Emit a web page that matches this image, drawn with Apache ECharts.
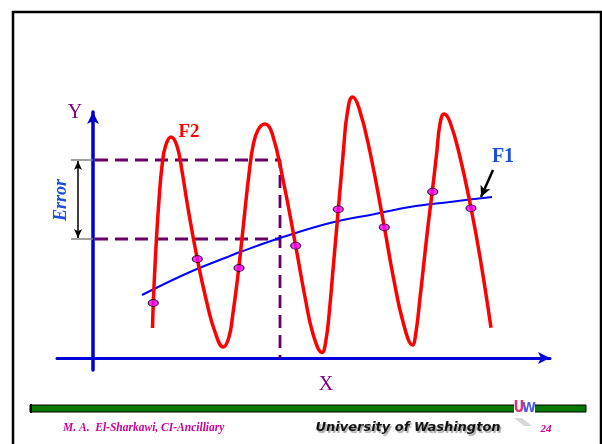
<!DOCTYPE html>
<html>
<head>
<meta charset="utf-8">
<script src="https://cdn.jsdelivr.net/npm/echarts@6/dist/echarts.min.js"></script>
<style>
html,body{margin:0;padding:0;background:#fff;}
#chart{width:602px;height:444px;}
</style>
</head>
<body>
<div id="chart"></div>
<script>
// ---- data (chart units: x to the right of the Y axis, y above the X axis) ----
const f1X = [49, 97, 137, 147, 187, 237, 282, 317, 357, 399];
const f1Y = [63, 86, 102, 106, 120, 135, 144, 151, 156, 161];

const f2X = [59.5, 60.3, 61.8, 63.5, 66, 69, 72.5, 78, 84, 89, 95.3, 104.3, 113.7, 122, 130.3, 136, 140, 144, 148, 152, 156, 160, 165, 172, 179, 190.3, 202.7, 212, 220.3, 229, 233, 236.5, 240, 243.5, 247, 250.5, 254, 259.5, 266, 277, 291.3, 300.3, 310.3, 319.5, 323, 327, 331, 335, 339.7, 343.7, 347, 351, 357, 367, 378, 387, 398];
const f2Y = [30, 55, 88, 120, 158, 192, 212, 221, 212, 187, 148, 99, 56, 26, 11, 21, 45, 75, 110, 148, 184, 212, 228, 234, 225, 177, 112, 61, 23, 5.5, 18, 48, 88, 128, 168, 208, 243, 261, 250, 206, 131, 81, 35, 13, 26, 60, 96, 132, 170, 205, 234, 244, 236, 201, 150, 101, 30.3];

const sampleX = [60.3, 104.3, 146, 202.7, 245.3, 291.3, 339.7, 378];
const sampleY = [55, 99, 90, 112.3, 148.7, 130.7, 166.3, 149.7];

const errorTop = 198;      // upper error level
const errorBottom = 119;   // lower error level
const guideX = 187;        // x of the vertical guide
const guideStart = 2;

const axisLabels = { x: 'X', y: 'Y' };
const curveLabels = { f1: 'F1', f2: 'F2', error: 'Error' };
const footer = { author: 'M. A.  El-Sharkawi, CI-Ancilliary', uni: 'University of Washington', page: '24' };

// ---- build ----
const zip = (xs, ys) => xs.map((x, i) => [x, ys[i]]);
const purple = '#660066';
const serif = '"Liberation Serif", "DejaVu Serif", serif';

const chart = echarts.init(document.getElementById('chart'), null, { renderer: 'canvas' });

const option = {
  animation: false,
  backgroundColor: '#ffffff',
  grid: { left: 57, right: 52, top: 112, bottom: 74, containLabel: false },
  xAxis: {
    type: 'value', min: -36, max: 457,
    axisLine: { show: true, onZero: true, symbol: ['none', 'arrow'], symbolSize: [9, 12],
      lineStyle: { color: '#0000dd', width: 3 } },
    axisTick: { show: false }, axisLabel: { show: false }, splitLine: { show: false }
  },
  yAxis: {
    type: 'value', min: -12, max: 246,
    axisLine: { show: true, onZero: true, symbol: ['none', 'arrow'], symbolSize: [9, 12],
      lineStyle: { color: '#0000cc', width: 3.5 } },
    axisTick: { show: false }, axisLabel: { show: false }, splitLine: { show: false }
  },
  series: [
    {
      name: 'guideTop', type: 'line', silent: true, symbol: 'none', clip: false, z: 2,
      data: [[guideStart, errorTop], [guideX, errorTop], [guideX, 0]],
      lineStyle: { color: purple, width: 2.8, type: [13, 7] }
    },
    {
      name: 'guideBottom', type: 'line', silent: true, symbol: 'none', clip: false, z: 2,
      data: [[guideStart, errorBottom], [guideX, errorBottom]],
      lineStyle: { color: purple, width: 2.8, type: [13, 7] },
      markLine: {
        silent: true, symbol: ['none', 'none'], label: { show: false },
        lineStyle: { color: '#808080', width: 1.5, type: 'solid' },
        data: [
          [{ coord: [-22, errorTop] }, { coord: [0, errorTop] }],
          [{ coord: [-22, errorBottom] }, { coord: [0, errorBottom] }]
        ]
      }
    },
    {
      name: 'errorArrow', type: 'line', silent: true, symbol: 'none', data: [], clip: false,
      markLine: {
        silent: true, symbol: ['arrow', 'arrow'], symbolSize: [6, 9], label: { show: false },
        lineStyle: { color: '#000000', width: 1.5, type: 'solid' },
        data: [
          [{ coord: [-15, errorTop - 1] }, { coord: [-15, errorBottom + 1] }],
        ]
      }
    },
    {
      name: 'F1', type: 'line', smooth: 0.4, symbol: 'none', clip: false, z: 3,
      data: zip(f1X, f1Y),
      lineStyle: { color: '#0000ff', width: 2 },
      markLine: {
        silent: true, symbol: ['none', 'arrow'], symbolSize: [8, 11], label: { show: false },
        lineStyle: { color: '#000000', width: 2.5, type: 'solid' },
        data: [[{ coord: [400, 188] }, { coord: [388, 161] }]]
      }
    },
    {
      name: 'F2', type: 'line', smooth: 0.45, symbol: 'none', clip: false, z: 4,
      data: zip(f2X, f2Y),
      lineStyle: { color: '#ff0000', width: 3.5 }
    },
    {
      name: 'samples', type: 'scatter', clip: false, z: 6,
      symbol: 'circle', symbolSize: [10, 7],
      data: zip(sampleX, sampleY),
      itemStyle: { color: '#ff00ff', borderColor: '#000000', borderWidth: 1 }
    }
  ],
  graphic: [
    { type: 'rect', silent: true, z: -1, shape: { x: 13, y: 12, width: 588, height: 450 },
      style: { fill: 'none', stroke: '#000000', lineWidth: 2.5 } },
    { type: 'text', x: 75, y: 113, style: { text: axisLabels.y, fill: '#800080', font: '20px ' + serif, align: 'center', verticalAlign: 'middle' } },
    { type: 'text', x: 326, y: 385, style: { text: axisLabels.x, fill: '#800080', font: '20px ' + serif, align: 'center', verticalAlign: 'middle' } },
    { type: 'text', x: 189, y: 132, style: { text: curveLabels.f2, fill: '#ff0000', font: 'bold 19px ' + serif, align: 'center', verticalAlign: 'middle' } },
    { type: 'text', x: 503, y: 157, style: { text: curveLabels.f1, fill: '#1a4fd6', font: 'bold 20px ' + serif, align: 'center', verticalAlign: 'middle' } },
    { type: 'text', x: 61, y: 200, rotation: Math.PI / 2, style: { text: curveLabels.error, fill: '#1a4fd6', font: 'italic bold 18px ' + serif, align: 'center', verticalAlign: 'middle' } },
    // footer bar
    { type: 'rect', silent: true, shape: { x: 30, y: 405, width: 556, height: 7 },
      style: { fill: '#007a00', stroke: '#000000', lineWidth: 1 } },
    { type: 'rect', silent: true, shape: { x: 30, y: 404, width: 2, height: 9 }, style: { fill: '#000000' } },
    { type: 'rect', silent: true, shape: { x: 514, y: 396, width: 21, height: 24 }, style: { fill: '#ffffff' } },
    { type: 'polygon', silent: true, shape: { points: [[514, 418], [522, 418], [532, 426], [524, 426]] }, style: { fill: '#d8d8d8' } },
    { type: 'text', x: 519, y: 408, style: { text: 'U', fill: '#e0307a', font: 'bold 15px "DejaVu Sans Condensed", sans-serif', align: 'center', verticalAlign: 'middle' } },
    { type: 'text', x: 529, y: 408, style: { text: 'W', fill: '#4a5fe0', font: 'bold 14px "DejaVu Sans Condensed", sans-serif', align: 'center', verticalAlign: 'middle' } },
    { type: 'text', x: 63, y: 428, style: { text: footer.author, fill: '#cc0099', font: 'italic bold 11.5px ' + serif, align: 'left', verticalAlign: 'middle' } },
    { type: 'text', x: 408, y: 428, style: { text: footer.uni, fill: '#111111', font: 'italic bold 13px "DejaVu Sans", sans-serif', align: 'center', verticalAlign: 'middle',
        textShadowColor: 'rgba(0,0,0,0.35)', textShadowBlur: 1, textShadowOffsetX: 1.5, textShadowOffsetY: 1.5 } },
    { type: 'text', x: 546, y: 429, style: { text: footer.page, fill: '#cc0099', font: 'italic bold 11px ' + serif, align: 'center', verticalAlign: 'middle' } }
  ]
};
chart.setOption(option);
</script>
</body>
</html>
